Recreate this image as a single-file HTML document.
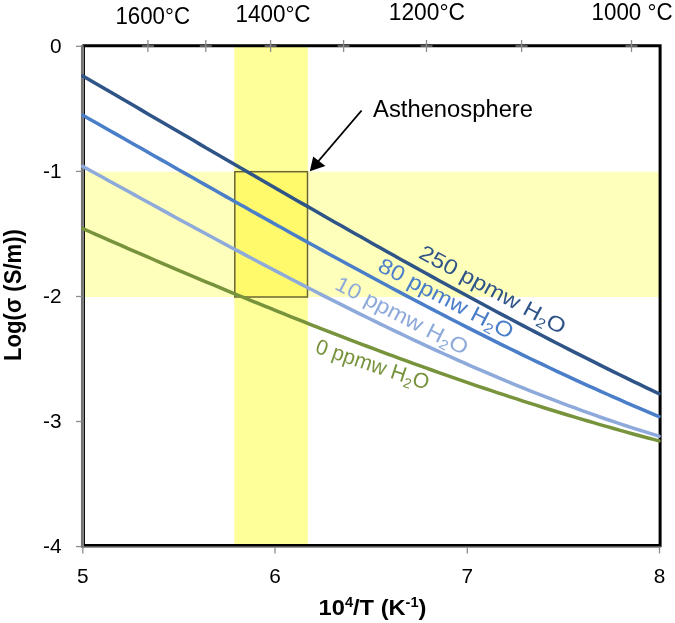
<!DOCTYPE html>
<html><head><meta charset="utf-8"><style>
html,body{margin:0;padding:0;background:#fff;width:675px;height:623px;overflow:hidden}
svg{display:block;will-change:transform;font-family:"Liberation Sans", sans-serif}
</style></head><body>
<svg width="675" height="623" viewBox="0 0 675 623">
<rect x="0" y="0" width="675" height="623" fill="#fff"/>
<rect x="84" y="171.7" width="575" height="125.30000000000001" fill="#FFFFBC"/>
<rect x="234.3" y="46" width="73.5" height="499" fill="#FFFF99"/>
<rect x="234.3" y="171.7" width="73.5" height="125.30000000000001" fill="#FFFA6C"/>
<rect x="234.8" y="171.7" width="72.7" height="125.30000000000001" fill="none" stroke="#6B6535" stroke-width="1.5"/>
<path d="M82.4,45.7 H660.1 V545.4 H84" fill="none" stroke="#000" stroke-width="3"/>
<line x1="84.3" y1="45" x2="84.3" y2="546" stroke="#000" stroke-width="1.3"/>
<line x1="82.3" y1="45" x2="82.3" y2="548" stroke="#747474" stroke-width="2.7"/>
<line x1="82" y1="547" x2="661" y2="547" stroke="#747474" stroke-width="1.7"/>
<line x1="76" y1="46.3" x2="82" y2="46.3" stroke="#8c8c8c" stroke-width="1.3"/>
<line x1="76" y1="171.4" x2="82" y2="171.4" stroke="#8c8c8c" stroke-width="1.3"/>
<line x1="76" y1="296.5" x2="82" y2="296.5" stroke="#8c8c8c" stroke-width="1.3"/>
<line x1="76" y1="421.5" x2="82" y2="421.5" stroke="#8c8c8c" stroke-width="1.3"/>
<line x1="76" y1="546.6" x2="82" y2="546.6" stroke="#8c8c8c" stroke-width="1.3"/>
<line x1="82.8" y1="547" x2="82.8" y2="553.5" stroke="#8c8c8c" stroke-width="1.3"/>
<line x1="275.0" y1="547" x2="275.0" y2="553.5" stroke="#8c8c8c" stroke-width="1.3"/>
<line x1="467.3" y1="547" x2="467.3" y2="553.5" stroke="#8c8c8c" stroke-width="1.3"/>
<line x1="659.5" y1="547" x2="659.5" y2="553.5" stroke="#8c8c8c" stroke-width="1.3"/>
<line x1="147.9" y1="40" x2="147.9" y2="52" stroke="#8c8c8c" stroke-width="1.3"/>
<line x1="141.9" y1="46" x2="153.9" y2="46" stroke="#8c8c8c" stroke-width="1.3"/>
<line x1="205.8" y1="40" x2="205.8" y2="52" stroke="#8c8c8c" stroke-width="1.3"/>
<line x1="199.8" y1="46" x2="211.8" y2="46" stroke="#8c8c8c" stroke-width="1.3"/>
<line x1="270.6" y1="40" x2="270.6" y2="52" stroke="#8c8c8c" stroke-width="1.3"/>
<line x1="264.6" y1="46" x2="276.6" y2="46" stroke="#8c8c8c" stroke-width="1.3"/>
<line x1="343.6" y1="40" x2="343.6" y2="52" stroke="#8c8c8c" stroke-width="1.3"/>
<line x1="337.6" y1="46" x2="349.6" y2="46" stroke="#8c8c8c" stroke-width="1.3"/>
<line x1="426.5" y1="40" x2="426.5" y2="52" stroke="#8c8c8c" stroke-width="1.3"/>
<line x1="420.5" y1="46" x2="432.5" y2="46" stroke="#8c8c8c" stroke-width="1.3"/>
<line x1="521.6" y1="40" x2="521.6" y2="52" stroke="#8c8c8c" stroke-width="1.3"/>
<line x1="515.6" y1="46" x2="527.6" y2="46" stroke="#8c8c8c" stroke-width="1.3"/>
<line x1="631.5" y1="40" x2="631.5" y2="52" stroke="#8c8c8c" stroke-width="1.3"/>
<line x1="625.5" y1="46" x2="637.5" y2="46" stroke="#8c8c8c" stroke-width="1.3"/>
<path id="c_green" d="M82.8,228.67 L89.3,231.52 L95.7,234.38 L102.2,237.22 L108.7,240.06 L115.2,242.89 L121.6,245.72 L128.1,248.54 L134.6,251.35 L141.1,254.16 L147.5,256.95 L154.0,259.74 L160.5,262.52 L167.0,265.30 L173.4,268.06 L179.9,270.82 L186.4,273.57 L192.9,276.31 L199.3,279.04 L205.8,281.77 L212.3,284.48 L218.8,287.19 L225.2,289.88 L231.7,292.57 L238.2,295.25 L244.7,297.91 L251.1,300.57 L257.6,303.22 L264.1,305.85 L270.6,308.48 L277.0,311.09 L283.5,313.70 L290.0,316.29 L296.4,318.88 L302.9,321.45 L309.4,324.01 L315.9,326.56 L322.3,329.09 L328.8,331.62 L335.3,334.13 L341.8,336.63 L348.2,339.12 L354.7,341.59 L361.2,344.06 L367.7,346.51 L374.1,348.95 L380.6,351.37 L387.1,353.78 L393.6,356.18 L400.0,358.56 L406.5,360.93 L413.0,363.29 L419.5,365.63 L425.9,367.96 L432.4,370.27 L438.9,372.57 L445.4,374.85 L451.8,377.12 L458.3,379.37 L464.8,381.61 L471.2,383.83 L477.7,386.04 L484.2,388.23 L490.7,390.41 L497.1,392.57 L503.6,394.71 L510.1,396.84 L516.6,398.95 L523.0,401.05 L529.5,403.12 L536.0,405.18 L542.5,407.23 L548.9,409.25 L555.4,411.26 L561.9,413.25 L568.4,415.22 L574.8,417.18 L581.3,419.12 L587.8,421.04 L594.3,422.94 L600.7,424.82 L607.2,426.68 L613.7,428.52 L620.2,430.35 L626.6,432.16 L633.1,433.94 L639.6,435.71 L646.1,437.46 L652.5,439.18 L659.0,440.89" fill="none" stroke="#77933C" stroke-width="3.5" stroke-linejoin="round" stroke-linecap="round"/>
<path id="c_light" d="M82.8,166.40 L89.3,169.96 L95.7,173.53 L102.2,177.09 L108.7,180.66 L115.2,184.22 L121.6,187.78 L128.1,191.34 L134.6,194.89 L141.1,198.45 L147.5,202.00 L154.0,205.54 L160.5,209.09 L167.0,212.63 L173.4,216.16 L179.9,219.69 L186.4,223.21 L192.9,226.72 L199.3,230.23 L205.8,233.74 L212.3,237.23 L218.8,240.72 L225.2,244.20 L231.7,247.67 L238.2,251.13 L244.7,254.58 L251.1,258.02 L257.6,261.45 L264.1,264.87 L270.6,268.28 L277.0,271.67 L283.5,275.06 L290.0,278.43 L296.4,281.79 L302.9,285.14 L309.4,288.47 L315.9,291.79 L322.3,295.09 L328.8,298.38 L335.3,301.65 L341.8,304.91 L348.2,308.15 L354.7,311.37 L361.2,314.58 L367.7,317.76 L374.1,320.93 L380.6,324.09 L387.1,327.22 L393.6,330.33 L400.0,333.43 L406.5,336.50 L413.0,339.55 L419.5,342.59 L425.9,345.60 L432.4,348.59 L438.9,351.55 L445.4,354.50 L451.8,357.42 L458.3,360.32 L464.8,363.19 L471.2,366.04 L477.7,368.86 L484.2,371.66 L490.7,374.43 L497.1,377.18 L503.6,379.90 L510.1,382.60 L516.6,385.26 L523.0,387.90 L529.5,390.51 L536.0,393.09 L542.5,395.64 L548.9,398.17 L555.4,400.66 L561.9,403.12 L568.4,405.56 L574.8,407.96 L581.3,410.33 L587.8,412.66 L594.3,414.97 L600.7,417.24 L607.2,419.48 L613.7,421.68 L620.2,423.85 L626.6,425.99 L633.1,428.09 L639.6,430.16 L646.1,432.19 L652.5,434.18 L659.0,436.14" fill="none" stroke="#8EAADB" stroke-width="3.5" stroke-linejoin="round" stroke-linecap="round"/>
<path id="c_med" d="M82.8,115.22 L89.3,118.90 L95.7,122.57 L102.2,126.25 L108.7,129.93 L115.2,133.61 L121.6,137.29 L128.1,140.97 L134.6,144.65 L141.1,148.34 L147.5,152.02 L154.0,155.70 L160.5,159.39 L167.0,163.07 L173.4,166.75 L179.9,170.43 L186.4,174.11 L192.9,177.78 L199.3,181.45 L205.8,185.12 L212.3,188.79 L218.8,192.46 L225.2,196.12 L231.7,199.77 L238.2,203.42 L244.7,207.07 L251.1,210.71 L257.6,214.35 L264.1,217.98 L270.6,221.61 L277.0,225.23 L283.5,228.84 L290.0,232.45 L296.4,236.05 L302.9,239.64 L309.4,243.22 L315.9,246.80 L322.3,250.36 L328.8,253.92 L335.3,257.47 L341.8,261.01 L348.2,264.54 L354.7,268.06 L361.2,271.57 L367.7,275.07 L374.1,278.56 L380.6,282.04 L387.1,285.51 L393.6,288.96 L400.0,292.40 L406.5,295.83 L413.0,299.25 L419.5,302.66 L425.9,306.05 L432.4,309.42 L438.9,312.79 L445.4,316.13 L451.8,319.47 L458.3,322.79 L464.8,326.09 L471.2,329.38 L477.7,332.65 L484.2,335.91 L490.7,339.15 L497.1,342.37 L503.6,345.57 L510.1,348.76 L516.6,351.93 L523.0,355.08 L529.5,358.22 L536.0,361.33 L542.5,364.43 L548.9,367.50 L555.4,370.56 L561.9,373.60 L568.4,376.61 L574.8,379.61 L581.3,382.58 L587.8,385.54 L594.3,388.47 L600.7,391.38 L607.2,394.27 L613.7,397.13 L620.2,399.97 L626.6,402.79 L633.1,405.59 L639.6,408.36 L646.1,411.11 L652.5,413.83 L659.0,416.53" fill="none" stroke="#4A7EC9" stroke-width="3.5" stroke-linejoin="round" stroke-linecap="round"/>
<path id="c_dark" d="M82.8,75.90 L89.3,79.67 L95.7,83.44 L102.2,87.21 L108.7,90.99 L115.2,94.76 L121.6,98.54 L128.1,102.32 L134.6,106.10 L141.1,109.87 L147.5,113.65 L154.0,117.43 L160.5,121.21 L167.0,124.99 L173.4,128.77 L179.9,132.55 L186.4,136.33 L192.9,140.11 L199.3,143.88 L205.8,147.65 L212.3,151.42 L218.8,155.19 L225.2,158.96 L231.7,162.72 L238.2,166.49 L244.7,170.24 L251.1,174.00 L257.6,177.75 L264.1,181.50 L270.6,185.24 L277.0,188.98 L283.5,192.71 L290.0,196.44 L296.4,200.17 L302.9,203.89 L309.4,207.60 L315.9,211.31 L322.3,215.02 L328.8,218.71 L335.3,222.40 L341.8,226.09 L348.2,229.77 L354.7,233.44 L361.2,237.10 L367.7,240.76 L374.1,244.40 L380.6,248.04 L387.1,251.67 L393.6,255.30 L400.0,258.91 L406.5,262.52 L413.0,266.11 L419.5,269.70 L425.9,273.28 L432.4,276.85 L438.9,280.41 L445.4,283.95 L451.8,287.49 L458.3,291.02 L464.8,294.53 L471.2,298.04 L477.7,301.53 L484.2,305.01 L490.7,308.48 L497.1,311.93 L503.6,315.38 L510.1,318.81 L516.6,322.23 L523.0,325.64 L529.5,329.03 L536.0,332.41 L542.5,335.77 L548.9,339.12 L555.4,342.46 L561.9,345.78 L568.4,349.09 L574.8,352.38 L581.3,355.66 L587.8,358.92 L594.3,362.17 L600.7,365.40 L607.2,368.61 L613.7,371.81 L620.2,374.99 L626.6,378.16 L633.1,381.31 L639.6,384.44 L646.1,387.55 L652.5,390.65 L659.0,393.72" fill="none" stroke="#2F5487" stroke-width="3.5" stroke-linejoin="round" stroke-linecap="round"/>
<text id="y0" x="61.5" y="53.1" font-size="20.8" text-anchor="end">0</text>
<text id="y1" x="61.5" y="178.2" font-size="20.8" text-anchor="end">-1</text>
<text id="y2" x="61.5" y="303.3" font-size="20.8" text-anchor="end">-2</text>
<text id="y3" x="61.5" y="428.3" font-size="20.8" text-anchor="end">-3</text>
<text id="y4" x="61.5" y="553.4" font-size="20.8" text-anchor="end">-4</text>
<text id="x5" x="82.8" y="583.2" font-size="20.8" text-anchor="middle">5</text>
<text id="x6" x="275.0" y="583.2" font-size="20.8" text-anchor="middle">6</text>
<text id="x7" x="467.3" y="583.2" font-size="20.8" text-anchor="middle">7</text>
<text id="x8" x="659.5" y="583.2" font-size="20.8" text-anchor="middle">8</text>
<text id="t0" x="115.4" y="23.5" font-size="23.3" textLength="74.6" lengthAdjust="spacingAndGlyphs">1600°C</text>
<text id="t1" x="235.4" y="21.6" font-size="23.3" textLength="75.2" lengthAdjust="spacingAndGlyphs">1400°C</text>
<text id="t2" x="388.8" y="20.4" font-size="23.3" textLength="76.2" lengthAdjust="spacingAndGlyphs">1200°C</text>
<text id="t3" x="591.6" y="19.75" font-size="23.3" textLength="81.0" lengthAdjust="spacingAndGlyphs">1000 °C</text>
<text id="asth" x="373.1" y="116.7" font-size="23.3" textLength="159.9" lengthAdjust="spacingAndGlyphs">Asthenosphere</text>
<text id="l250" transform="translate(417.5,257.3) rotate(28.28)" font-size="21.5" fill="#2F5487" textLength="163.05" lengthAdjust="spacingAndGlyphs">250 ppmw H<tspan font-size="14.0" dy="4.3">2</tspan><tspan dy="-4.3">O</tspan></text>
<text id="l80" transform="translate(376.54,270.14) rotate(27.66)" font-size="21.5" fill="#4A7EC9" textLength="149.44" lengthAdjust="spacingAndGlyphs">80 ppmw H<tspan font-size="14.0" dy="4.3">2</tspan><tspan dy="-4.3">O</tspan></text>
<text id="l10" transform="translate(333.5,288.58) rotate(27.22)" font-size="21.5" fill="#8EAADB" textLength="146.32" lengthAdjust="spacingAndGlyphs">10 ppmw H<tspan font-size="14.0" dy="4.3">2</tspan><tspan dy="-4.3">O</tspan></text>
<text id="l0" transform="translate(314.21,352.44) rotate(18.49)" font-size="21.5" fill="#77933C" textLength="118.27" lengthAdjust="spacingAndGlyphs">0 ppmw H<tspan font-size="14.0" dy="4.3">2</tspan><tspan dy="-4.3">O</tspan></text>
<text id="xt" x="318.6" y="614.9" font-size="22.7" font-weight="bold" textLength="107.9" lengthAdjust="spacingAndGlyphs">10<tspan dy="-8" font-size="14">4</tspan><tspan dy="8">/T (K</tspan><tspan dy="-8" font-size="14">-1</tspan><tspan dy="8">)</tspan></text>
<text id="yt" transform="translate(21.2,361.0) rotate(-90.0)" font-size="23.3" font-weight="bold" textLength="132.0" lengthAdjust="spacingAndGlyphs">Log(σ (S/m))</text>
<line x1="361.6" y1="110.5" x2="318.5" y2="161" stroke="#000" stroke-width="1.9"/>
<path d="M309.8,171.2 L313.2,156.4 L325.4,165.9 Z" fill="#000"/>
</svg></body></html>
